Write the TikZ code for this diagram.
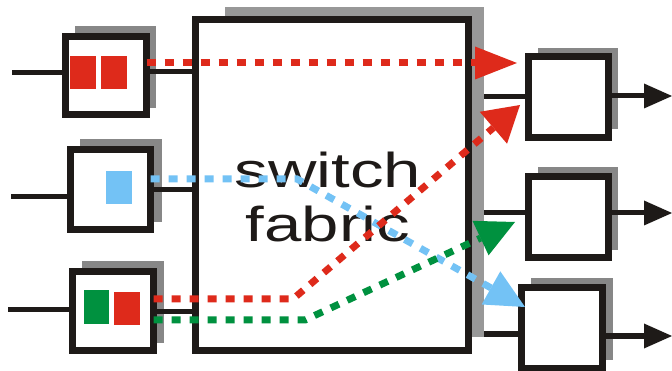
\documentclass[tikz,border=0pt]{standalone}
\usepackage{fontspec}
\setmainfont{Liberation Sans}
\usetikzlibrary{arrows.meta,calc}
\definecolor{ink}{HTML}{1E1A18}
\definecolor{shad}{HTML}{878787}
\definecolor{fshad}{HTML}{989898}
\definecolor{cred}{HTML}{DE2A1B}
\definecolor{cgreen}{HTML}{00913F}
\definecolor{cblue}{HTML}{73C2F5}
\begin{document}
\begin{tikzpicture}[x=1pt,y=-1pt,
  box/.style={draw=ink,line width=7pt,fill=white,inner sep=0pt,outer sep=0pt,minimum width=80pt,minimum height=80pt},
  shadowbox/.style={fill=shad,inner sep=0pt,outer sep=0pt},
  chip/.style={inner sep=0pt,outer sep=0pt,minimum width=26pt,minimum height=33pt},
  wire/.style={draw=ink,line width=5pt},
  outwire/.style={wire,-{Triangle[length=28pt,width=25pt,line width=0pt]}},
  flow/.style={line width=7pt,dash pattern=on 9pt off 9pt}]
\useasboundingbox (0,0) rectangle (672,371);

% shadows
\fill[shad] (75,26) rectangle (156,108);
\fill[shad] (80,139) rectangle (162,222);
\fill[shad] (82,261) rectangle (164,343);
\node[shadowbox,fill=fshad,minimum width=259pt,minimum height=330pt] (fsh) at (354.5,172) {};
\fill[shad] (538,48) rectangle (618,129);
\fill[shad] (538,167) rectangle (618,250);
\fill[shad] (531,278) rectangle (613,360);

% free ends
\coordinate (src1) at (12,73);
\coordinate (src2) at (11,197);
\coordinate (src3) at (8,310);
\coordinate (d1) at (672,96);
\coordinate (d2) at (672,213);
\coordinate (d3) at (672,336);

% boxes
\node[box,minimum width=81pt,minimum height=78pt] (in1) at (106,75.5) {};
\node[box,minimum width=80pt,minimum height=80pt] (in2) at (110.5,189.5) {};
\node[box,minimum width=81pt,minimum height=79pt] (in3) at (113,311) {};
\node[box,minimum width=273pt,minimum height=331pt] (fab) at (332,185) {};
\node[box,minimum width=80pt,minimum height=81pt] (out1) at (568.5,97) {};
\node[box,minimum width=80pt,minimum height=81pt] (out2) at (568.5,217) {};
\node[box,minimum width=81pt,minimum height=81pt] (out3) at (562,328) {};

% packets
\node[chip,fill=cred] (p1a) at (83,72.5) {};
\node[chip,fill=cred] (p1b) at (114,72.5) {};
\node[chip,fill=cblue] (p2a) at (119,187.5) {};
\node[chip,fill=cgreen,minimum width=25pt,minimum height=34pt] (p3a) at (96.5,307) {};
\node[chip,fill=cred] (p3b) at (127,308.5) {};

% wires
\draw[wire] (src1) -- (src1 -| in1.west);
\draw[wire] (src2) -- (src2 -| in2.west);
\draw[wire] (src3) -- (src3 -| in3.west);
\draw[wire] (in1.east |- 0,72) -- (fab.west |- 0,72);
\draw[wire] (in2.east |- 0,190) -- (fab.west |- 0,190);
\draw[wire] (in3.east |- 0,312) -- (fab.west |- 0,312);
\draw[wire] (fsh.east |- 0,97) -- (out1.west |- 0,97);
\draw[wire] (fsh.east |- 0,213) -- (out2.west |- 0,213);
\draw[wire] (fsh.east |- 0,334) -- (out3.west |- 0,334);
\draw[outwire] (out1.east |- d1) -- (d1);
\draw[outwire] (out2.east |- d2) -- (d2);
\draw[outwire] (out3.east |- d3) -- (d3);

% label
\node[font=\fontsize{49}{49}\selectfont,xscale=1.37,anchor=base,text=ink,inner sep=0pt] (lab1) at (328,188) {switch};
\node[font=\fontsize{49}{49}\selectfont,xscale=1.37,anchor=base,text=ink,inner sep=0pt] (lab2) at (328,242) {fabric};

% flows
\coordinate (t1) at (517,63);
\coordinate (t2) at (520,105);
\coordinate (t3) at (515,222);
\coordinate (t4) at (525,307);
\draw[flow,draw=cred,-{Triangle[length=42pt,width=33pt,line width=0pt,fill=cred]}] (in1.east |- 0,63) -- (t1);
\draw[flow,draw=cblue,-{Triangle[length=39pt,width=38pt,line width=0pt,fill=cblue]}] (in2.east |- 0,179) -- (297,179) -- (t4);
\draw[flow,draw=cred,-{Triangle[length=35pt,width=42pt,line width=0pt,fill=cred]}] (in3.east |- 0,299) -- (293,299) -- (t2);
\draw[flow,draw=cgreen,-{Triangle[length=38pt,width=38pt,line width=0pt,fill=cgreen]}] (in3.east |- 0,320) -- (305,320) -- (t3);
\end{tikzpicture}
\end{document}
